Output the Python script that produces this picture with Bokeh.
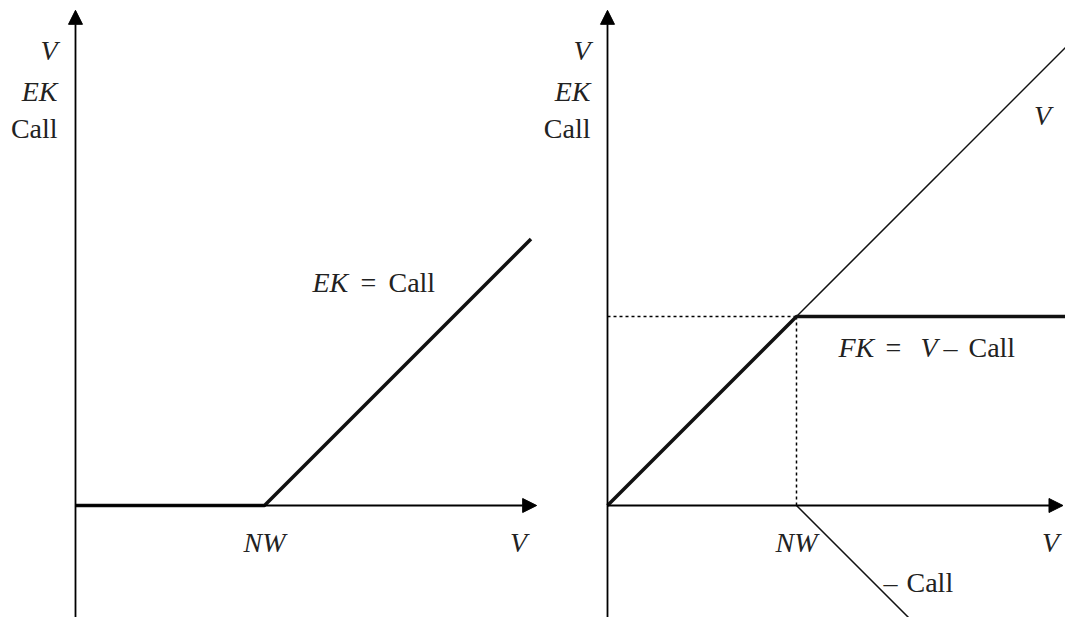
from bokeh.plotting import figure
from bokeh.layouts import row
from bokeh.models import Arrow, NormalHead
from bokeh.core.properties import value
from bokeh.embed import file_html
from bokeh.resources import INLINE

# ---- data (abstract units, strike NW = 1) ----
strike = 1.0
left_payoff_x = [0.0, 1.0, 2.41]
left_payoff_y = [0.0, 0.0, 1.41]
right_v_x = [0.0, 2.5]
right_v_y = [0.0, 2.5]
right_fk_x = [0.0, 1.0, 2.5]
right_fk_y = [0.0, 1.0, 1.0]
neg_call_x = [1.0, 1.6]
neg_call_y = [0.0, -0.6]

FONT = value("Liberation Serif")
FS = "28px"


def make_fig(width, x0, x1):
    p = figure(width=width, height=617, x_range=(x0, x1), y_range=(-0.5926, 2.672),
               output_backend="svg", toolbar_location=None, min_border=0,
               x_axis_type=None, y_axis_type=None)
    p.grid.visible = False
    p.outline_line_color = None
    p.background_fill_color = "white"
    return p


def axes(p, xtip):
    p.add_layout(Arrow(end=NormalHead(size=14, fill_color="black", line_color="black"),
                       x_start=0, y_start=-0.65, x_end=0, y_end=2.62,
                       line_width=1.8, line_color="black"))
    p.add_layout(Arrow(end=NormalHead(size=14, fill_color="black", line_color="black"),
                       x_start=0, y_start=0, x_end=xtip, y_end=0,
                       line_width=1.8, line_color="black"))


def txt(p, x, y, s, italic=False, align="left"):
    p.text(x=[x], y=[y], text=[s], text_font=FONT, text_font_size=FS,
           text_font_style="italic" if italic else "normal",
           text_align=align, text_baseline="middle", text_color="#222222")


# ---- left panel ----
p1 = make_fig(539, -0.3968, 2.455)
axes(p1, 2.44)
p1.line(left_payoff_x, left_payoff_y, line_width=3.5, line_color="#111111")
txt(p1, -0.095, 2.407, "V", italic=True, align="right")
txt(p1, -0.095, 2.190, "EK", italic=True, align="right")
txt(p1, -0.095, 1.995, "Call", align="right")
txt(p1, 1.254, 1.18, "EK", italic=True)
txt(p1, 1.508, 1.18, "=")
txt(p1, 1.656, 1.18, "Call")
txt(p1, strike, -0.196, "NW", italic=True, align="center")
txt(p1, 2.344, -0.196, "V", italic=True, align="center")

# ---- right panel ----
p2 = make_fig(526, -0.3598, 2.4233)
axes(p2, 2.41)
p2.line([0, strike], [strike, strike], line_width=1.5, line_color="black", line_dash="3 3")
p2.line([strike, strike], [0, strike], line_width=1.5, line_color="black", line_dash="3 3")
p2.line(right_v_x, right_v_y, line_width=1.5, line_color="#111111")
p2.line(neg_call_x, neg_call_y, line_width=1.5, line_color="#111111")
p2.line(right_fk_x, right_fk_y, line_width=3.5, line_color="#111111")
txt(p2, -0.090, 2.407, "V", italic=True, align="right")
txt(p2, -0.090, 2.190, "EK", italic=True, align="right")
txt(p2, -0.090, 1.995, "Call", align="right")
txt(p2, 2.302, 2.063, "V", italic=True, align="center")
txt(p2, 1.222, 0.836, "FK", italic=True)
txt(p2, 1.471, 0.836, "=")
txt(p2, 1.656, 0.836, "V", italic=True)
txt(p2, 1.778, 0.836, "–")
txt(p2, 1.910, 0.836, "Call")
txt(p2, strike, -0.196, "NW", italic=True, align="center")
txt(p2, 2.344, -0.196, "V", italic=True, align="center")
txt(p2, 1.460, -0.407, "–")
txt(p2, 1.582, -0.407, "Call")

layout = row(p1, p2)
open("out.html", "w").write(file_html(layout, INLINE))
